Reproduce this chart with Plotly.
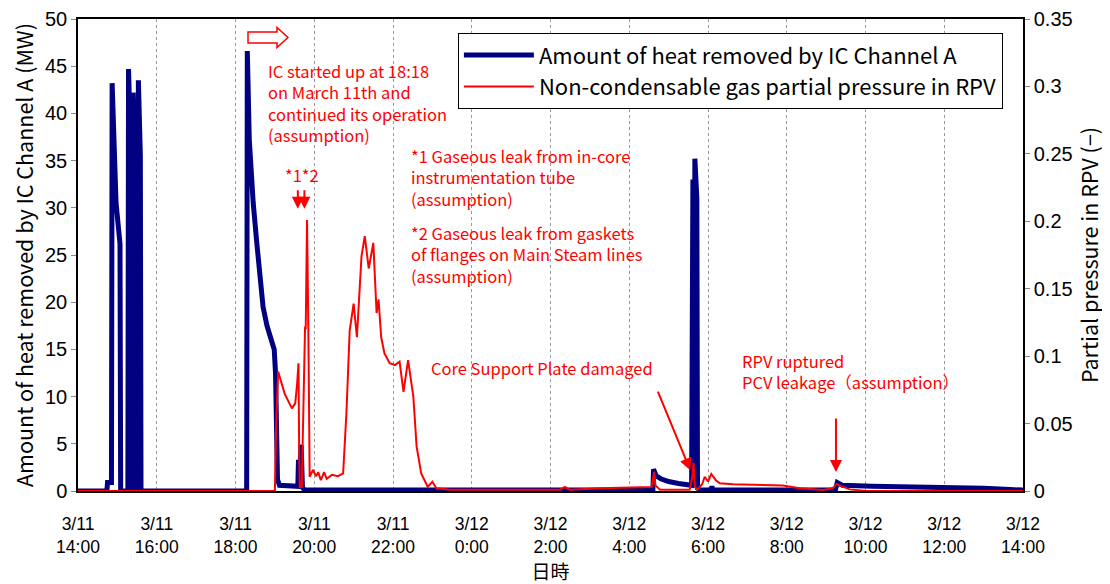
import plotly.graph_objects as go

# --- data --------------------------------------------------------------
# IC Channel A heat removal (MW)
heat_time = [
    "2011-03-11 14:00", "2011-03-11 14:44", "2011-03-11 14:45", "2011-03-11 14:51",
    "2011-03-11 14:52", "2011-03-11 14:58", "2011-03-11 15:04", "2011-03-11 15:05",
    "2011-03-11 15:16", "2011-03-11 15:17", "2011-03-11 15:20", "2011-03-11 15:21",
    "2011-03-11 15:23", "2011-03-11 15:24", "2011-03-11 15:27", "2011-03-11 15:28",
    "2011-03-11 15:31", "2011-03-11 15:32", "2011-03-11 15:35", "2011-03-11 15:36",
    "2011-03-11 18:17", "2011-03-11 18:18", "2011-03-11 18:21", "2011-03-11 18:23",
    "2011-03-11 18:27", "2011-03-11 18:32", "2011-03-11 18:37", "2011-03-11 18:42",
    "2011-03-11 18:48", "2011-03-11 18:53", "2011-03-11 18:59", "2011-03-11 19:01",
    "2011-03-11 19:02", "2011-03-11 19:04", "2011-03-11 19:07", "2011-03-11 19:35",
    "2011-03-11 19:36", "2011-03-11 19:37", "2011-03-11 19:40", "2011-03-11 19:42",
    "2011-03-11 19:45", "2011-03-12 04:36", "2011-03-12 04:37", "2011-03-12 04:41",
    "2011-03-12 04:48", "2011-03-12 05:00", "2011-03-12 05:15", "2011-03-12 05:35",
    "2011-03-12 05:37", "2011-03-12 05:38", "2011-03-12 05:40", "2011-03-12 05:43",
    "2011-03-12 05:44", "2011-03-12 05:48", "2011-03-12 06:05", "2011-03-12 06:06",
    "2011-03-12 06:07", "2011-03-12 09:14", "2011-03-12 09:17", "2011-03-12 09:25",
    "2011-03-12 10:10", "2011-03-12 11:40", "2011-03-12 13:00", "2011-03-12 13:40",
    "2011-03-12 14:00",
]
heat_mw = [
    0, 0, 0.9, 0.9,
    43.2, 30.5, 26.2, 0,
    0, 44.7, 37.0, 0,
    0, 42.2, 35.0, 0,
    0, 43.5, 35.5, 0,
    0, 46.6, 37.2, 34.7,
    30.5, 26.6, 22.5, 19.5,
    17.5, 16.5, 15.0, 12.5,
    5.0, 1.2, 0.6, 0.5,
    3.3, 0.8, 4.9, 0.4,
    0.1, 0.1, 2.3, 1.6,
    1.3, 1.0, 0.8, 0.6,
    33.0, 1.0, 35.2, 31.0,
    0.3, 0.1, 0.1, 0.5,
    0.1, 0.1, 0.9, 0.6,
    0.5, 0.45, 0.3, 0.15,
    0.1,
]

# Non-condensable gas partial pressure in RPV (-)
gas_time = [
    "2011-03-11 14:00", "2011-03-11 19:00", "2011-03-11 19:02", "2011-03-11 19:05",
    "2011-03-11 19:09", "2011-03-11 19:15", "2011-03-11 19:26", "2011-03-11 19:31",
    "2011-03-11 19:34", "2011-03-11 19:36", "2011-03-11 19:37", "2011-03-11 19:38",
    "2011-03-11 19:41", "2011-03-11 19:44", "2011-03-11 19:46", "2011-03-11 19:47",
    "2011-03-11 19:49", "2011-03-11 19:51", "2011-03-11 19:53", "2011-03-11 19:58",
    "2011-03-11 20:03", "2011-03-11 20:06", "2011-03-11 20:10", "2011-03-11 20:15",
    "2011-03-11 20:19", "2011-03-11 20:27", "2011-03-11 20:36", "2011-03-11 20:44",
    "2011-03-11 20:49", "2011-03-11 20:54", "2011-03-11 21:00", "2011-03-11 21:05",
    "2011-03-11 21:12", "2011-03-11 21:17", "2011-03-11 21:23", "2011-03-11 21:30",
    "2011-03-11 21:35", "2011-03-11 21:38", "2011-03-11 21:42", "2011-03-11 21:47",
    "2011-03-11 21:55", "2011-03-11 22:03", "2011-03-11 22:10", "2011-03-11 22:16",
    "2011-03-11 22:23", "2011-03-11 22:31", "2011-03-11 22:36", "2011-03-11 22:43",
    "2011-03-11 22:53", "2011-03-11 23:00", "2011-03-11 23:06", "2011-03-11 23:27",
    "2011-03-12 02:14", "2011-03-12 02:22", "2011-03-12 02:29", "2011-03-12 03:15",
    "2011-03-12 04:16", "2011-03-12 04:34", "2011-03-12 04:38", "2011-03-12 04:40",
    "2011-03-12 04:47", "2011-03-12 05:32", "2011-03-12 05:36", "2011-03-12 05:38",
    "2011-03-12 05:40", "2011-03-12 05:44", "2011-03-12 05:51", "2011-03-12 05:55",
    "2011-03-12 06:00", "2011-03-12 06:05", "2011-03-12 06:12", "2011-03-12 06:18",
    "2011-03-12 06:38", "2011-03-12 07:54", "2011-03-12 08:20", "2011-03-12 08:55",
    "2011-03-12 09:10", "2011-03-12 09:16", "2011-03-12 09:21", "2011-03-12 09:36",
    "2011-03-12 10:02", "2011-03-12 14:00",
]
gas_pp = [
    0, 0, 0.05, 0.0885,
    0.082, 0.072, 0.0613, 0.065,
    0.08, 0.0947, 0.03, 0.003,
    0.003, 0.08, 0.122, 0.12,
    0.201, 0.12, 0.0106, 0.0156,
    0.011, 0.014, 0.008, 0.014,
    0.009, 0.012, 0.011, 0.013,
    0.0576, 0.119, 0.139, 0.114,
    0.174, 0.189, 0.165, 0.184,
    0.132, 0.142, 0.114, 0.102,
    0.0947, 0.0934, 0.0959, 0.0736,
    0.0971, 0.070, 0.0329, 0.0131,
    0.003, 0.0069, 0.002, 0.001,
    0.001, 0.003, 0.001, 0.002,
    0.003, 0.003, 0.0143, 0.004,
    0.001, 0.001, 0.01, 0.021,
    0.003, 0.001, 0.005, 0.0106,
    0.007, 0.0126, 0.008, 0.0057,
    0.005, 0.004, 0.002, 0.0008,
    0.002, 0.0052, 0.004, 0.0012,
    0, 0,
]

TXT_FONT = "Noto Sans CJK JP, Noto Sans, sans-serif"
NUM_FONT = "Liberation Sans, Arial, sans-serif"
RED = "#ff0000"

fig = go.Figure()

fig.add_trace(go.Scatter(
    x=heat_time, y=heat_mw, mode="lines",
    name="Amount of heat removed by IC Channel A",
    line=dict(color="#000080", width=5),
    legendgroup="a", yaxis="y",
))
fig.add_trace(go.Scatter(
    x=gas_time, y=gas_pp, mode="lines",
    name="Non-condensable gas partial pressure in RPV",
    line=dict(color=RED, width=2),
    legendgroup="b", yaxis="y2",
))

# red notes
notes = [
    dict(x="2011-03-11 18:46", y=46.0, yanchor="top",
         text="IC started up at 18:18<br>on March 11th and<br>continued its operation<br>(assumption)"),
    dict(x="2011-03-11 22:24", y=37.0, yanchor="top",
         text="*1 Gaseous leak from in-core<br>instrumentation tube<br>(assumption)"),
    dict(x="2011-03-11 22:24", y=28.8, yanchor="top",
         text="*2 Gaseous leak from gaskets<br>of flanges on Main Steam lines<br>(assumption)"),
    dict(x="2011-03-11 22:55", y=13.0, yanchor="middle",
         text="Core Support Plate damaged"),
    dict(x="2011-03-12 06:49", y=15.3, yanchor="top",
         text="RPV ruptured<br>PCV leakage（assumption）"),
]
for n in notes:
    fig.add_annotation(xref="x", yref="y", xanchor="left", align="left",
                       showarrow=False, font=dict(family=TXT_FONT, size=16.5, color=RED), **n)

fig.add_annotation(xref="x", yref="y", x="2011-03-11 19:41", y=33.5, text="*1*2",
                   showarrow=False, font=dict(family=TXT_FONT, size=16.5, color=RED))

arrows = [
    dict(x="2011-03-11 19:35", y=29.9, ax=0, ay=-20),
    dict(x="2011-03-11 19:45", y=29.9, ax=0, ay=-20),
    dict(x="2011-03-12 05:33", y=2.2, ax=-33, ay=-80),
    dict(x="2011-03-12 09:15", y=2.0, ax=0, ay=-55),
]
for a in arrows:
    fig.add_annotation(xref="x", yref="y", text="", showarrow=True,
                       arrowhead=2, arrowsize=1.2, arrowwidth=2, arrowcolor=RED, **a)

# hollow block arrow next to the IC start-up note
fig.add_shape(type="path", xref="paper", yref="paper",
              path="M 0.1799 0.9725 L 0.2106 0.9725 L 0.2106 0.9820 L 0.2222 0.9608 "
                   "L 0.2106 0.9396 L 0.2106 0.9492 L 0.1799 0.9492 Z",
              line=dict(color=RED, width=1.5), fillcolor="white")

# the page body adds an 8px margin, so the figure is 8px smaller than the window
fig.update_layout(
    width=1102, height=576, autosize=False,
    margin=dict(l=70, r=87, t=11, b=93),
    paper_bgcolor="white", plot_bgcolor="white",
    showlegend=True,
    legend=dict(x=0.402, y=0.970, xanchor="left", yanchor="top",
                bgcolor="white", bordercolor="black", borderwidth=1,
                font=dict(family=TXT_FONT, size=22, color="black"),
                tracegroupgap=0, itemwidth=70),
    xaxis=dict(
        type="date", automargin=False,
        range=["2011-03-11 14:00", "2011-03-12 14:00"],
        tick0="2011-03-11 14:00", dtick=7200000,
        tickformat="%-m/%-d<br>%-H:%M",
        tickfont=dict(family=NUM_FONT, size=17.5, color="black"),
        showgrid=True, gridcolor="#9a9a9a", griddash="dot", gridwidth=1,
        showline=True, linecolor="black", linewidth=1.5, mirror=True,
        ticks="outside", ticklen=16, tickcolor="rgba(0,0,0,0)", zeroline=False,
        title=dict(text="日時", font=dict(family=TXT_FONT, size=19, color="black"), standoff=10),
    ),
    yaxis=dict(
        range=[0, 50], dtick=5, tick0=0, automargin=False,
        showgrid=False, zeroline=False,
        showline=True, linecolor="black", linewidth=1.5,
        ticks="outside", ticklen=5, tickcolor="#888888",
        tickfont=dict(family=NUM_FONT, size=20, color="black"),
        title=dict(text="Amount of heat removed by IC Channel A (MW)",
                   font=dict(family=TXT_FONT, size=21.5, color="black"), standoff=6),
    ),
    yaxis2=dict(
        range=[0, 0.35], dtick=0.05, tick0=0, automargin=False,
        overlaying="y", side="right",
        showgrid=False, zeroline=False,
        showline=True, linecolor="black", linewidth=1.5,
        ticks="outside", ticklen=5, tickcolor="#888888",
        tickfont=dict(family=NUM_FONT, size=20, color="black"),
        title=dict(text="Partial pressure in RPV (−)",
                   font=dict(family=TXT_FONT, size=21.5, color="black"), standoff=4),
    ),
)

fig.write_html("out.html")
